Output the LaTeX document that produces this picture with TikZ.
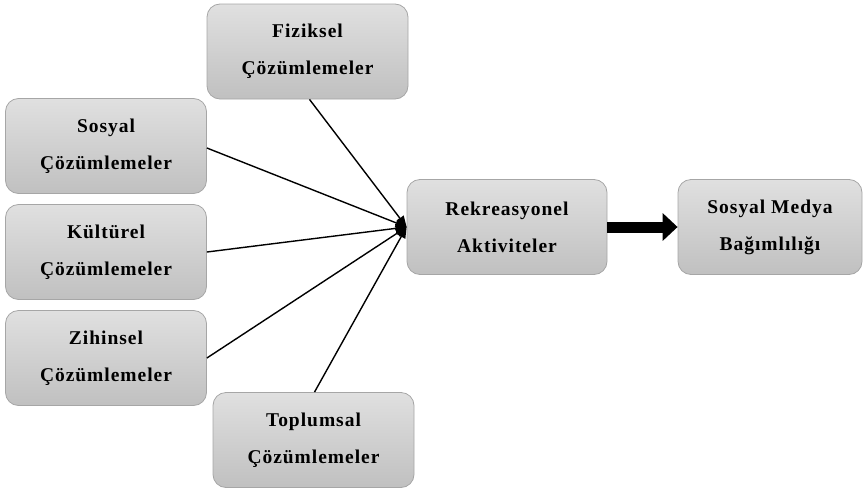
\documentclass[tikz,border=0pt]{standalone}
\usepackage{fontspec}
\setmainfont{Liberation Serif}
\newfontfamily\boxfont[LetterSpace=5]{Liberation Serif}
\usetikzlibrary{arrows.meta}
\definecolor{boxtop}{HTML}{E0E0E0}
\definecolor{boxbot}{HTML}{C0C0C0}
\definecolor{boxline}{HTML}{A6A6A6}
\tikzset{
  cbox/.style={draw=boxline, line width=0.8pt, rounded corners=13pt,
    top color=boxtop, bottom color=boxbot,
    minimum width=201pt, minimum height=95pt, inner sep=0pt,
    align=center, font=\boxfont\bfseries\fontsize{19.5}{37}\selectfont, text=black},
  link/.style={line width=1.4pt, -{Triangle[length=11pt,width=9pt]}},
  bigarrow/.style={line width=11pt, -{Triangle[length=15pt,width=27pt]}}
}
\begin{document}
\begin{tikzpicture}[x=1pt,y=-1pt]
\useasboundingbox (0,0) rectangle (865,490);
\node[cbox] (fiz) at (307.5,51.5) {Fiziksel\\Çözümlemeler};
\node[cbox] (sos) at (106,146) {Sosyal\\Çözümlemeler};
\node[cbox] (kul) at (106,252) {Kültürel\\Çözümlemeler};
\node[cbox] (zih) at (106,358) {Zihinsel\\Çözümlemeler};
\node[cbox] (top) at (313.5,440) {Toplumsal\\Çözümlemeler};
\node[cbox, minimum width=200pt] (rek) at (507,227) {Rekreasyonel\\Aktiviteler};
\node[cbox, minimum width=184pt] (med) at (770,227) {Sosyal Medya\\Bağımlılığı};
\draw[link] (fiz.south) ++(2,0) coordinate (fs) -- (rek.west);
\draw[link] (sos.east) ++(0,2) coordinate (ss) -- (rek.west);
\draw[link] (kul.east) -- (rek.west);
\draw[link] (zih.east) -- (rek.west);
\draw[link] (top.north) ++(1,0) coordinate (ts) -- (rek.west);
\draw[bigarrow] (rek.east) -- (med.west);
\end{tikzpicture}
\end{document}
